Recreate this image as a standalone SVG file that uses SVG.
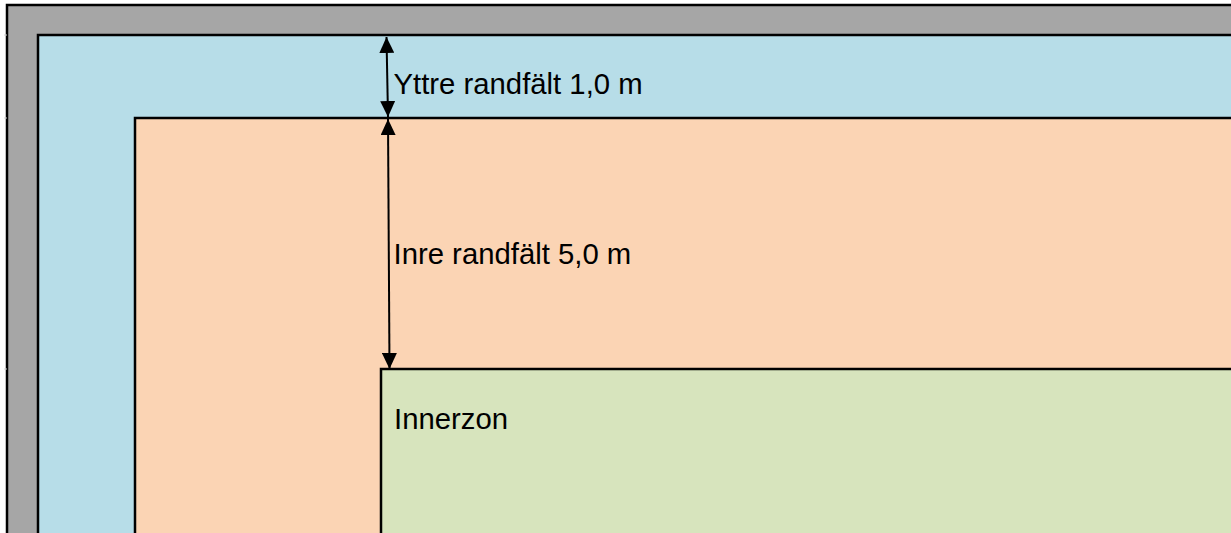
<svg xmlns="http://www.w3.org/2000/svg" width="1231" height="533" viewBox="0 0 1231 533">
<defs>
<style>
.zone{stroke:#000;stroke-width:2.5}
.lbl{font-family:"Liberation Sans",Arial,sans-serif;font-size:29.3px;fill:#000}
.dim{stroke:#000;stroke-width:2;fill:none;marker-start:url(#ah);marker-end:url(#ah)}
.tick{stroke:#d0d0d0;stroke-width:1}
</style>
<marker id="ah" viewBox="0 0 16 15" refX="16" refY="7.5" markerWidth="16" markerHeight="15" markerUnits="userSpaceOnUse" orient="auto-start-reverse">
<path d="M0,0 L16,7.5 L0,15 z" fill="#000"/>
</marker>
</defs>
<rect width="1231" height="533" fill="#fff"/>
<g id="wall"><rect class="zone" x="7" y="5" width="1240" height="540" fill="#A6A6A6"/></g>
<g id="yttre-randfalt"><rect class="zone" x="38" y="35" width="1210" height="510" fill="#B7DDE8"/></g>
<g id="inre-randfalt"><rect class="zone" x="135" y="118" width="1110" height="430" fill="#FBD4B4"/></g>
<g id="innerzon"><rect class="zone" x="381" y="369" width="870" height="180" fill="#D7E4BD"/>
<text class="lbl" x="394" y="428.5">Innerzon</text></g>
<g id="ticks">
<line class="tick" x1="4" y1="35" x2="7" y2="35"/>
<line class="tick" x1="4" y1="118" x2="7" y2="118"/>
<line class="tick" x1="4" y1="369" x2="7" y2="369"/>
</g>
<g id="connectors">
<line class="dim" x1="386.5" y1="37" x2="388" y2="117"/>
<line class="dim" x1="388" y1="119" x2="389.5" y2="369"/>
</g>
<g id="labels">
<text class="lbl" x="393.5" y="93.5">Yttre randfält 1,0 m</text>
<text class="lbl" x="393.5" y="263.5">Inre randfält 5,0 m</text>
</g>
</svg>
